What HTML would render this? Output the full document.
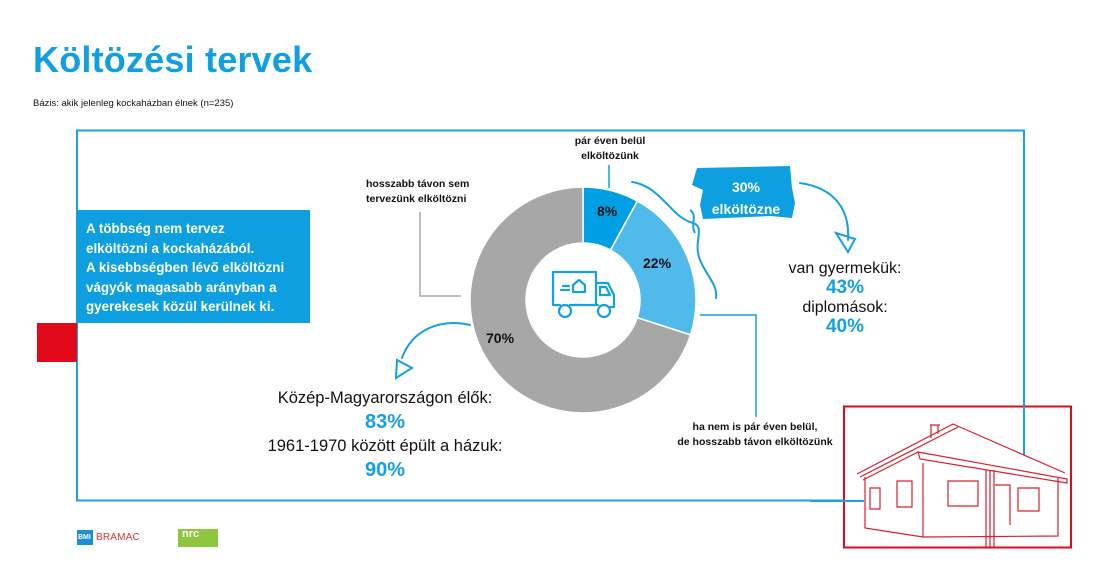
<!DOCTYPE html>
<html><head><meta charset="utf-8"><style>
*{margin:0;padding:0;box-sizing:border-box}
body{width:1100px;height:578px;background:#fff;position:relative;overflow:hidden;font-family:"Liberation Sans",sans-serif;color:#111}
.a{position:absolute;white-space:nowrap}
.b{font-weight:bold}
.c{text-align:center}
.blue{color:#14a0e3}
</style></head><body>
<div class="a b" style="left:33px;top:39px;font-size:36px;color:#0f9fe2;letter-spacing:0.2px">Költözési tervek</div>
<div class="a" style="left:33px;top:98px;font-size:9.5px">Bázis: akik jelenleg kockaházban élnek (n=235)</div>

<svg class="a" style="left:0;top:0" width="1100" height="578" viewBox="0 0 1100 578">
<rect x="77" y="130.5" width="947" height="370" fill="none" stroke="#1aa3e3" stroke-width="2"/>
<rect x="37" y="323" width="40" height="39" fill="#e20a1a"/>
<rect x="77" y="210" width="233" height="113" fill="#0e9fe1"/>
<path d="M583,187 A113,113 0 0 1 637.4,201 L610.5,250.1 A57,57 0 0 0 583,243 Z" fill="#009fe3" stroke="#fff" stroke-width="1.5"/>
<path d="M637.4,201 A113,113 0 0 1 690.5,334.9 L637.2,317.6 A57,57 0 0 0 610.5,250.1 Z" fill="#50bbea" stroke="#fff" stroke-width="1.5"/>
<path d="M690.5,334.9 A113,113 0 1 1 583,187 L583,243 A57,57 0 1 0 637.2,317.6 Z" fill="#a7a7a7" stroke="#fff" stroke-width="1.5"/>
<g fill="none" stroke="#14a0e3" stroke-width="2.2" stroke-linecap="round" stroke-linejoin="round">
<path d="M553,272 H596 V305 M553,272 V305 H560 M570,305 H598"/>
<path d="M596,283 H608 L614,295 V307 H610"/>
<path d="M600,287 H606 L610,295 H600 Z"/>
<circle cx="565" cy="311" r="6"/><circle cx="604" cy="311" r="6"/>
<path d="M573,285 L579,280 L585,285 V292 H573 Z"/>
<path d="M563,286 H569 M561,290 H569"/>
</g>
<path d="M420,212 V296 H461" fill="none" stroke="#aaa" stroke-width="1.5"/>
<path d="M609,165 V188" stroke="#14a0e3" stroke-width="1.5"/>
<path d="M700,315 H756 V417" fill="none" stroke="#14a0e3" stroke-width="1.5"/>
<path d="M632,182 C660,186 670,215 690,222 C708,226 692,240 700,260 C706,275 718,285 716,298" fill="none" stroke="#14a0e3" stroke-width="2" stroke-linecap="round"/>
<path d="M695,233 C690,225 698,215 690,210" fill="none" stroke="#14a0e3" stroke-width="2"/>
<path d="M800,183 C835,188 850,210 848,240" fill="none" stroke="#14a0e3" stroke-width="2" stroke-linecap="round"/>
<path d="M836,233 L855,239 L848,252 Z" fill="none" stroke="#14a0e3" stroke-width="2"/>
<path d="M470,325 C440,318 412,330 402,358" fill="none" stroke="#14a0e3" stroke-width="2" stroke-linecap="round"/>
<path d="M397,360 L412,368 L396,378 Z" fill="none" stroke="#14a0e3" stroke-width="2"/>
<path d="M697,168 L790,166 L792,188 L795,203 L792,218 L770,216 L703,219 L700,205 L703,190 L692,185 Z" fill="#0e9fe1"/>
<rect x="844" y="406.5" width="227" height="141" fill="#fff" stroke="#e20a1a" stroke-width="2"/>
<path d="M1024,406 V455" stroke="#1aa3e3" stroke-width="2"/>
<path d="M810,501 H864" stroke="#1aa3e3" stroke-width="2"/>
<g fill="none" stroke="#d9202e" stroke-width="1.2">
<path d="M857,474 L953,424 L1065,473 M860,477 L958,427 M863,480 L918,452"/>
<path d="M918,452 L1067,479 L1067,483 L920,459 Z"/>
<path d="M865,477 V528 L923,537 V463 M923,537 L1058,536 V478"/>
<path d="M931,425 V438 M938,425 V434 M930,425 H940"/>
<path d="M870,488 H880 V509 H870 Z M897,481 H912 V507 H897 Z M948,481 H978 V506 H948 Z M1018,488 H1039 V511 H1018 Z"/>
<path d="M986,470 V547 M990,470 V547 M994,470 V547 M995,485 H1010 V525"/>
</g>
<rect x="77" y="530" width="16" height="15" fill="#1a8fd8"/>
<rect x="178" y="529" width="40" height="18" fill="#8dc63f"/>
</svg>

<div class="a b" style="left:86px;top:219px;font-size:13.4px;line-height:19.5px;color:#fff">A többség nem tervez<br>elköltözni a kockaházából.<br>A kisebbségben lévő elköltözni<br>vágyók magasabb arányban a<br>gyerekesek közül kerülnek ki.</div>

<div class="a b c" style="left:555px;top:134px;width:110px;font-size:10.5px;line-height:15px">pár éven belül<br>elköltözünk</div>
<div class="a b" style="left:366px;top:177px;font-size:10.5px;line-height:15px">hosszabb távon sem<br>tervezünk elköltözni</div>
<div class="a b" style="left:597px;top:203px;font-size:14px">8%</div>
<div class="a b" style="left:643px;top:255px;font-size:14px">22%</div>
<div class="a b" style="left:486px;top:330px;font-size:14px">70%</div>

<div class="a b c" style="left:697px;top:176px;width:98px;font-size:14px;line-height:22px;color:#fff">30%<br>elköltözne</div>

<div class="a c" style="left:760px;top:259px;width:170px;font-size:16px;line-height:19px">van gyermekük:<br><span class="b blue" style="font-size:19px">43%</span><br>diplomások:<br><span class="b blue" style="font-size:19px">40%</span></div>

<div class="a c" style="left:235px;top:387px;width:300px;font-size:16.5px;line-height:23.5px">Közép-Magyarországon élők:<br><span class="b blue" style="font-size:20px">83%</span><br>1961-1970 között épült a házuk:<br><span class="b blue" style="font-size:20px">90%</span></div>

<div class="a b c" style="left:650px;top:420px;width:210px;font-size:10.5px;line-height:15px">ha nem is pár éven belül,<br>de hosszabb távon elköltözünk</div>

<div class="a b" style="left:78px;top:534px;font-size:7px;color:#fff">BMI</div>
<div class="a" style="left:96px;top:532px;font-size:10px;color:#e2303a;letter-spacing:0.2px">BRAMAC</div>
<div class="a b" style="left:182px;top:528px;font-size:11px;color:#fff">nrc</div>
</body></html>
